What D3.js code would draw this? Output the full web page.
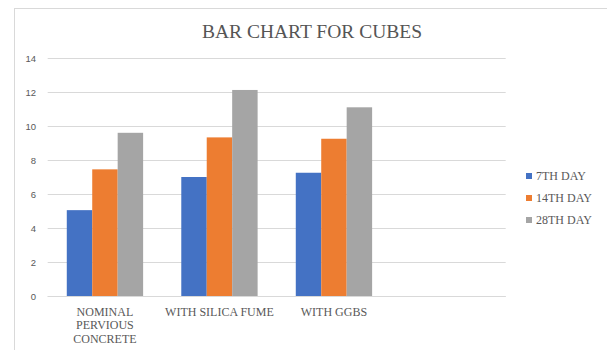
<!DOCTYPE html>
<html>
<head>
<meta charset="utf-8">
<script src="https://cdn.jsdelivr.net/npm/d3@7"></script>
<style>
  body { margin: 0; background: #fff; }
</style>
</head>
<body>
<div id="chart"></div>
<script>
// data
var categories = [["NOMINAL", "PERVIOUS", "CONCRETE"], ["WITH SILICA FUME"], ["WITH GGBS"], [""]];
var seriesNames = ["7TH DAY", "14TH DAY", "28TH DAY"];
var day7 = [5.05, 7.0, 7.25];
var day14 = [7.45, 9.33, 9.25];
var day28 = [9.6, 12.12, 11.1];
var yTicks = [0, 2, 4, 6, 8, 10, 12, 14];
var colors = ["#4472C4", "#ED7D31", "#A5A5A5"];

var series = [day7, day14, day28];

var width = 607, height = 350;
var svg = d3.select("#chart")
    .append("svg")
    .attr("width", width)
    .attr("height", height);

// outer chart border
svg.append("rect")
    .attr("x", 14.5).attr("y", 8.5)
    .attr("width", 620).attr("height", 360)
    .attr("fill", "none")
    .attr("stroke", "#d9d9d9");

// title
svg.append("text")
    .attr("x", 312).attr("y", 37.5)
    .attr("text-anchor", "middle")
    .style("font-family", "'Liberation Serif', serif")
    .style("font-size", "19.5px")
    .style("fill", "#555")
    .text("BAR CHART FOR CUBES");

var x0 = d3.scaleBand()
    .domain(d3.range(categories.length))
    .range([47.7, 505.7])
    .paddingInner(0)
    .paddingOuter(0);

var y = d3.scaleLinear()
    .domain([0, 14])
    .range([296, 58]);

// gridlines
svg.append("g")
    .selectAll("line")
    .data(yTicks)
    .enter()
    .append("line")
    .attr("x1", x0.range()[0])
    .attr("x2", x0.range()[1])
    .attr("y1", function (d) { return Math.round(y(d)) + 0.5; })
    .attr("y2", function (d) { return Math.round(y(d)) + 0.5; })
    .attr("stroke", "#d9d9d9")
    .attr("stroke-width", 1);

// y axis labels
var yAxis = d3.axisLeft(y).tickValues(yTicks).tickSize(0).tickPadding(0);
var gy = svg.append("g")
    .attr("transform", "translate(36,0)")
    .call(yAxis);
gy.select(".domain").remove();
gy.selectAll("text")
    .style("font-family", "'Liberation Sans', sans-serif")
    .style("font-size", "9.5px")
    .style("fill", "#595959");

// bars inside each category: gap width 150%
var bw = x0.bandwidth() / (3 + 1.5);
var x1 = d3.scaleBand()
    .domain(d3.range(seriesNames.length))
    .range([bw * 0.75, bw * 3.75]);

var groups = svg.append("g")
    .selectAll("g")
    .data(day7.map(function (d, i) { return i; }))
    .enter()
    .append("g")
    .attr("transform", function (i) { return "translate(" + x0(i) + ",0)"; });

groups.selectAll("rect")
    .data(function (i) { return series.map(function (s, k) { return { k: k, v: s[i] }; }); })
    .enter()
    .append("rect")
    .attr("x", function (d) { return x1(d.k); })
    .attr("width", x1.bandwidth())
    .attr("y", function (d) { return y(d.v); })
    .attr("height", function (d) { return y(0) - y(d.v); })
    .attr("fill", function (d) { return colors[d.k]; });

// x axis baseline
svg.append("line")
    .attr("x1", x0.range()[0]).attr("x2", x0.range()[1])
    .attr("y1", 296.5).attr("y2", 296.5)
    .attr("stroke", "#d9d9d9");

// category labels
var cl = svg.append("g")
    .selectAll("text")
    .data(categories)
    .enter()
    .append("text")
    .attr("x", function (d, i) { return x0(i) + x0.bandwidth() / 2; })
    .attr("y", 315.5)
    .attr("text-anchor", "middle")
    .style("font-family", "'Liberation Serif', serif")
    .style("font-size", "12px")
    .style("fill", "#595959");
cl.selectAll("tspan")
    .data(function (d) { return d; })
    .enter()
    .append("tspan")
    .attr("x", function () { return this.parentNode.getAttribute("x"); })
    .attr("dy", function (d, i) { return i === 0 ? 0 : 13.8; })
    .text(function (d) { return d; });

// legend
var legend = svg.append("g")
    .selectAll("g")
    .data(seriesNames)
    .enter()
    .append("g")
    .attr("transform", function (d, i) { return "translate(526," + (176 + i * 22) + ")"; });
legend.append("rect")
    .attr("x", 0).attr("y", -3)
    .attr("width", 6).attr("height", 6)
    .attr("fill", function (d, i) { return colors[i]; });
legend.append("text")
    .attr("x", 10).attr("y", 4)
    .style("font-family", "'Liberation Serif', serif")
    .style("font-size", "12px")
    .style("fill", "#595959")
    .text(function (d) { return d; });
</script>
</body>
</html>
